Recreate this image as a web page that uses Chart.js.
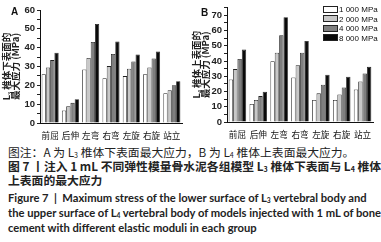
<!DOCTYPE html>
<html>
<head>
<meta charset="utf-8">
<script src="https://cdn.jsdelivr.net/npm/chart.js@4.4.0/dist/chart.umd.min.js"></script>
<style>
  body { margin: 0; width: 381px; height: 242px; background: #fff; position: relative; overflow: hidden; font-family: "Noto Sans CJK SC", sans-serif; }
  .box { position: absolute; top: 0; height: 140px; }
  .tag { position: absolute; font: bold 10px "Liberation Sans", sans-serif; color: #111; }
  .leg { position: absolute; left: 323px; font: 8px "Liberation Sans", sans-serif; color: #111; }
  .leg div { height: 9.6px; line-height: 9.6px; white-space: nowrap; }
  .leg span { display: inline-block; width: 13px; height: 5px; border: 0.8px solid #222; margin-right: 1px; vertical-align: -0.5px; }
  .cap { position: absolute; left: 8px; white-space: nowrap; color: #222; }
  .zh { font: 11.8px "Noto Sans CJK SC", sans-serif; }
  .en { font: bold 11.2px Lato, "Open Sans", sans-serif; }
  sub { font-size: 0.6em; vertical-align: -0.2em; line-height: 0; }
</style>
</head>
<body>
<div class="box" style="left:0;width:190px"><canvas id="chartA"></canvas></div>
<div class="box" style="left:190px;width:191px"><canvas id="chartB"></canvas></div>
<div class="tag" style="left:11px;top:6px">A</div>
<div class="tag" style="left:201px;top:7px">B</div>
<div class="leg" style="top:5px">
  <div><span style="background:#fff"></span>1 000 MPa</div>
  <div><span style="background:#c8c8c8"></span>2 000 MPa</div>
  <div><span style="background:#7f7f7f"></span>4 000 MPa</div>
  <div><span style="background:#0a0a0a"></span>8 000 MPa</div>
</div>
<div class="cap zh" style="top:143px">图注：A 为 L<sub>3</sub> 椎体下表面最大应力，B 为 L<sub>4</sub> 椎体上表面最大应力。</div>
<div class="cap zh" style="top:157px;font-weight:bold;font-size:11.8px">图 7 丨注入 1 mL 不同弹性模量骨水泥各组模型 L<sub>3</sub> 椎体下表面与 L<sub>4</sub> 椎体</div>
<div class="cap zh" style="top:171px;font-weight:bold;font-size:11.8px">上表面的最大应力</div>
<div class="cap en" style="top:191px">Figure 7 &nbsp;|&nbsp; Maximum stress of the lower surface of L<sub>3</sub> vertebral body and</div>
<div class="cap en" style="top:206px">the upper surface of L<sub>4</sub> vertebral body of models injected with 1 mL of bone</div>
<div class="cap en" style="top:221px">cement with different elastic moduli in each group</div>
<script>
const categories = ['前屈', '后伸', '左弯', '右弯', '左旋', '右旋', '站立'];
const moduli = ['1 000 MPa', '2 000 MPa', '4 000 MPa', '8 000 MPa'];
const colors = ['#ffffff', '#c8c8c8', '#7f7f7f', '#0a0a0a'];

// A: L3 lower surface
const a1000 = [25.9, 6.7, 28.4, 23.8, 24.9, 25.9, 15.8];
const a2000 = [29.5, 8.9, 34.5, 30.2, 28.8, 29.5, 17.4];
const a4000 = [33.4, 10.7, 43.0, 36.6, 32.7, 34.3, 20.1];
const a8000 = [37.3, 12.6, 52.6, 43.3, 36.4, 38.0, 22.2];

// B: L4 upper surface
const b1000 = [27.9, 11.8, 39.9, 29.2, 14.4, 14.4, 21.4];
const b2000 = [34.7, 14.4, 45.4, 37.3, 18.8, 18.1, 26.6];
const b4000 = [41.4, 17.0, 56.9, 45.4, 24.4, 22.7, 31.8];
const b8000 = [47.5, 19.8, 68.7, 53.2, 31.0, 29.7, 36.2];

function makeChart(id, series, yMax, title, yWidth, xHeight, pad) {
    new Chart(document.getElementById(id).getContext('2d'), {
        type: 'bar',
        data: {
            labels: categories,
            datasets: series.map((d, i) => ({
                label: moduli[i],
                data: d,
                backgroundColor: colors[i],
                borderColor: '#222',
                borderWidth: 0.8,
                categoryPercentage: 0.84,
                barPercentage: 1.0
            }))
        },
        options: {
            responsive: true,
            maintainAspectRatio: false,
            animation: false,
            layout: { padding: pad },
            plugins: { legend: { display: false }, tooltip: { enabled: false } },
            scales: {
                x: {
                    grid: { display: false },
                    border: { display: true, color: '#111', width: 1 },
                    ticks: { font: { family: 'Noto Sans CJK SC', size: 8.6 }, color: '#111', padding: 0, maxRotation: 0, autoSkip: false },
                    afterFit: s => { s.height = xHeight; }
                },
                y: {
                    min: 0, max: yMax,
                    grid: { display: true, drawOnChartArea: false, drawTicks: true, tickLength: 3, color: '#222' },
                    border: { display: true, color: '#111', width: 1 },
                    ticks: {
                        stepSize: 5, autoSkip: false, padding: 2, color: '#222',
                        font: { family: 'Liberation Sans', size: 9.5, weight: 'bold' },
                        callback: v => (v % 10 === 0 ? v : '')
                    },
                    title: {
                        display: true, text: title, color: '#222',
                        font: { family: 'Noto Sans CJK SC', size: 9.5, weight: 'bold', lineHeight: 0.95 },
                        padding: { top: 2, bottom: 0 }
                    },
                    afterFit: s => { s.width = yWidth; }
                }
            }
        }
    });
}

makeChart('chartA', [a1000, a2000, a4000, a8000], 60,
    ['L₃ 椎体下表面的', '最大应力 (MPa)'], 40, 17, { top: 10, right: 8, bottom: 0, left: 0 });
makeChart('chartB', [b1000, b2000, b4000, b8000], 75,
    ['L₄ 椎体上表面的', '最大应力 (MPa)'], 37, 18, { top: 7, right: 8, bottom: 0, left: 0 });
</script>
</body>
</html>
